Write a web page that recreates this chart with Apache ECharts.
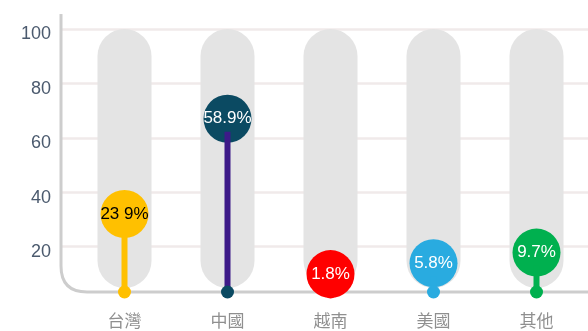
<!DOCTYPE html>
<html>
<head>
<meta charset="utf-8">
<title>來源地占比</title>
<script src="https://cdn.jsdelivr.net/npm/echarts@6/dist/echarts.min.js"></script>
<style>
  html, body { margin: 0; padding: 0; background: #ffffff; }
  #chart { width: 588px; height: 331px; }
</style>
</head>
<body>
<div id="chart"></div>
<script>
// Categories and their shares (percent)
const categories = ['台灣', '中國', '越南', '美國', '其他'];
const shares = [23.9, 58.9, 1.8, 5.8, 9.7];
const shareLabels = ['23 9%', '58.9%', '1.8%', '5.8%', '9.7%'];

// Value-axis ticks
const yMin = 0;
const yMax = 100;
const yStep = 20;

// Colours per category
const bubbleColors = ['#ffc000', '#0b4a62', '#ff0000', '#29abe0', '#00b04f'];
const stemColors = ['#ffc000', '#3d1a88', '#ff0000', '#29abe0', '#00b04f'];
const labelColors = ['#000000', '#ffffff', '#ffffff', '#ffffff', '#ffffff'];

// Visual baseline lift (value units) where stems start, and the track range
const BASE = 3.3;
const TRACK_FROM = 4.8;
const TRACK_TO = 100;
const AXIS_TOP = 105.5;

const chart = echarts.init(document.getElementById('chart'), null, { renderer: 'canvas' });

const option = {
  animation: false,
  backgroundColor: '#ffffff',
  grid: [
    { left: 73, right: -4, top: 29, bottom: 30 },
    { left: 60, right: 0, top: 29, bottom: 30 }
  ],
  xAxis: [
    {
      type: 'category', gridIndex: 0, data: categories,
      axisLine: { show: false }, axisTick: { show: false },
      axisLabel: { margin: 11, color: '#8f8f8f', fontSize: 17, fontFamily: 'Noto Sans CJK TC' }
    },
    { type: 'category', gridIndex: 0, data: categories, show: false },
    { type: 'value', gridIndex: 1, min: 0, max: 1, show: false }
  ],
  yAxis: [
    { type: 'value', gridIndex: 0, min: yMin, max: yMax, interval: yStep, show: false },
    {
      type: 'value', gridIndex: 1, min: yMin, max: yMax, interval: yStep,
      axisLine: { show: false }, axisTick: { show: false },
      axisLabel: {
        showMinLabel: false, margin: 9, color: '#4b5a6e', fontSize: 18,
        fontFamily: 'Liberation Sans, Arial, sans-serif',
        verticalAlign: 'top', lineHeight: 11
      },
      splitLine: { show: true, showMinLine: false, lineStyle: { color: '#f0eaea', width: 2.5 } }
    }
  ],
  series: [
    {
      type: 'bar', xAxisIndex: 0, yAxisIndex: 0, stack: 'track', barWidth: 54, silent: true,
      itemStyle: { color: 'rgba(0,0,0,0)' },
      data: categories.map(() => TRACK_FROM)
    },
    {
      type: 'bar', xAxisIndex: 0, yAxisIndex: 0, stack: 'track', barWidth: 54, silent: true,
      itemStyle: { color: '#e4e4e4', borderRadius: 27 },
      data: categories.map(() => TRACK_TO - TRACK_FROM)
    },
    {
      type: 'scatter', xAxisIndex: 0, yAxisIndex: 0, symbolSize: 48, symbolOffset: [0, -22], z: 3,
      data: shares.map((v, i) => ({
        value: [i, v],
        itemStyle: { color: bubbleColors[i], opacity: 1 },
        label: { color: labelColors[i] }
      })),
      label: {
        show: true, position: 'inside', fontSize: 17,
        fontFamily: 'Liberation Sans, Arial, sans-serif',
        formatter: (p) => shareLabels[p.dataIndex]
      }
    },
    {
      type: 'bar', xAxisIndex: 1, yAxisIndex: 0, stack: 'stem', barWidth: 6, silent: true, z: 4,
      itemStyle: { color: 'rgba(0,0,0,0)' },
      data: categories.map(() => BASE)
    },
    {
      type: 'bar', xAxisIndex: 1, yAxisIndex: 0, stack: 'stem', barWidth: 6, z: 4,
      data: shares.map((v, i) => ({ value: v, itemStyle: { color: stemColors[i] } }))
    },
    {
      type: 'scatter', xAxisIndex: 0, yAxisIndex: 0, symbolSize: 13, z: 5,
      data: shares.map((v, i) => ({ value: [i, BASE], itemStyle: { color: bubbleColors[i], opacity: 1 } }))
    }
  ]
};

chart.setOption(option);

// Rounded axis frame: vertical value axis turning into the category baseline
const topPt = chart.convertToPixel({ gridIndex: 1 }, [0, AXIS_TOP]);
const basePt = chart.convertToPixel({ gridIndex: 1 }, [0, BASE]);
const endPt = chart.convertToPixel({ gridIndex: 1 }, [1, BASE]);
const ax = topPt[0] + 1;
const by = basePt[1];
const r = 26;
const frameStyle = { stroke: '#cdcdcd', lineWidth: 3, fill: null };
chart.setOption({
  graphic: [
    { type: 'line', z: 1, silent: true, shape: { x1: ax, y1: topPt[1], x2: ax, y2: by - r }, style: frameStyle },
    {
      type: 'bezierCurve', z: 1, silent: true,
      shape: { x1: ax, y1: by - r, cpx1: ax, cpy1: by, x2: ax + r, y2: by },
      style: frameStyle
    },
    { type: 'line', z: 1, silent: true, shape: { x1: ax + r, y1: by, x2: endPt[0], y2: by }, style: frameStyle }
  ]
});
</script>
</body>
</html>
